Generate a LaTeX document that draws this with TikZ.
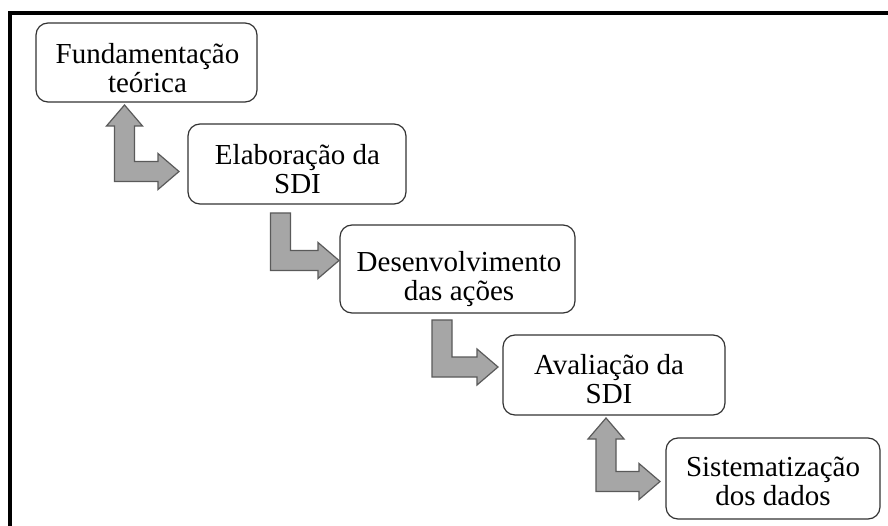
\documentclass[tikz,border=0pt]{standalone}
\usepackage{fontspec}
\setmainfont{Liberation Serif}
\usetikzlibrary{calc}

\definecolor{boxline}{HTML}{333333}
\definecolor{arrowfill}{HTML}{A6A6A6}
\definecolor{arrowline}{HTML}{5A5A5A}

\tikzset{
  stage/.style={draw=boxline, line width=1.2pt, rounded corners=12pt, fill=white},
  caption/.style={align=center, font=\fontsize{29}{29}\selectfont, inner sep=0pt},
  blockarrow/.style={fill=arrowfill, draw=arrowline, line width=1.2pt, line join=miter},
}

% half shaft width, half head width, head length
\def\aw{10pt}\def\ah{18pt}\def\al{21pt}

% L-shaped block arrow: tail at #1 (top of the vertical shaft), tip at #2
\newcommand\elbowsingle[2]{%
  \path[blockarrow] let \p1=(#1), \p2=(#2) in
    (\x1-\aw,\y1) -- (\x1+\aw,\y1) -- (\x1+\aw,\y2+\aw) -- (\x2-\al,\y2+\aw)
    -- (\x2-\al,\y2+\ah) -- (\x2,\y2) -- (\x2-\al,\y2-\ah) -- (\x2-\al,\y2-\aw)
    -- (\x1-\aw,\y2-\aw) -- cycle;}

% L-shaped block arrow with heads at both ends: tip up at #1, tip right at #2
\newcommand\elbowdouble[2]{%
  \path[blockarrow] let \p1=(#1), \p2=(#2) in
    (\x1,\y1) -- (\x1+\ah,\y1-\al) -- (\x1+\aw,\y1-\al) -- (\x1+\aw,\y2+\aw)
    -- (\x2-\al,\y2+\aw) -- (\x2-\al,\y2+\ah) -- (\x2,\y2) -- (\x2-\al,\y2-\ah)
    -- (\x2-\al,\y2-\aw) -- (\x1-\aw,\y2-\aw) -- (\x1-\aw,\y1-\al)
    -- (\x1-\ah,\y1-\al) -- cycle;}

\begin{document}
\begin{tikzpicture}[x=1pt, y=-1pt]
\useasboundingbox (0,0) rectangle (888,526);
\fill[white] (0,0) rectangle (888,526);

% outer frame (top and left sides)
\draw[line width=4pt, line join=miter] (10,526) -- (10,13) -- (888,13);

% stage boxes
\node[stage, minimum width=221pt, minimum height=79pt] (b1) at (146.5,62.5) {};
\node[stage, minimum width=218pt, minimum height=80pt] (b2) at (297,164) {};
\node[stage, minimum width=235pt, minimum height=88pt] (b3) at (457.5,269) {};
\node[stage, minimum width=222pt, minimum height=80pt] (b4) at (614,375) {};
\node[stage, minimum width=214pt, minimum height=81pt] (b5) at (773,478.5) {};

% stage labels
\node[caption] (t1) at (147.5,67.8) {Fundamentação\\teórica};
\node[caption] (t2) at (297.5,169) {Elaboração da\\SDI};
\node[caption] (t3) at (459,279.3) {Desenvolvimento\\das ações};
\node[caption] (t4) at (609,379.2) {Avaliação da\\SDI};
\node[caption] (t5) at (773,481.7) {Sistematização\\dos dados};

% arrow end points
\coordinate (a1t) at (124.5,105);
\coordinate (a1h) at (179,171.5);
\coordinate (a2t) at (280.5,213);
\coordinate (a2h) at (339,260.5);
\coordinate (a3t) at (442,320);
\coordinate (a3h) at (498,367);
\coordinate (a4t) at (606,418);
\coordinate (a4h) at (660,481.5);

% connecting block arrows
\elbowdouble{a1t}{a1h}
\elbowsingle{a2t}{a2h}
\elbowsingle{a3t}{a3h}
\elbowdouble{a4t}{a4h}
\end{tikzpicture}
\end{document}
